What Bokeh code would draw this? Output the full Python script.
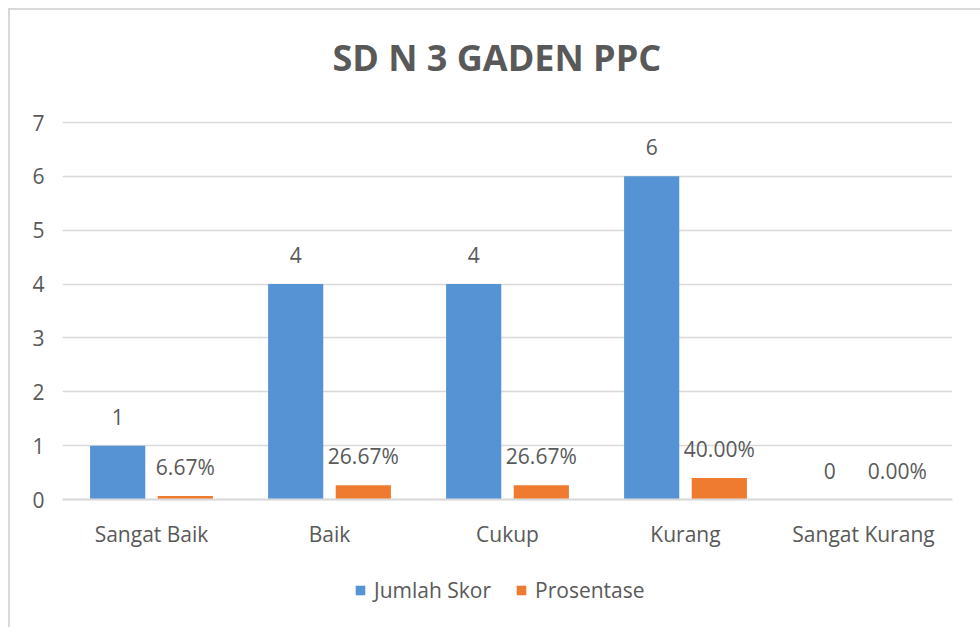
from bokeh.plotting import figure
from bokeh.models import (Range1d, FixedTicker, ColumnDataSource, LabelSet, Label, Legend,
                          LegendItem, Span)
from bokeh.core.properties import value
from bokeh.transform import dodge
from bokeh.embed import file_html
from bokeh.resources import INLINE

# ---- data ----
categories = ["Sangat Baik", "Baik", "Cukup", "Kurang", "Sangat Kurang"]
jumlah_skor = [1, 4, 4, 6, 0]
prosentase = [0.0667, 0.2667, 0.2667, 0.40, 0.0]
y_ticks = [0, 1, 2, 3, 4, 5, 6, 7]
title_text = "SD N 3 GADEN PPC"
series_names = ["Jumlah Skor", "Prosentase"]

FONT = "Open Sans"
TXT = "#595959"
BLUE = "#5593d5"
ORANGE = "#ee7b30"
GRID = "#d9d9d9"

# layout (pixels)
PLOT_H = 377          # height of the 0..7 value area
TOP_SPACE = 112       # title area above the value area
BOTTOM_SPACE = 128    # category labels + legend below the value area
px_per_unit = PLOT_H / 7
y_top = 7 + TOP_SPACE / px_per_unit
y_bottom = -BOTTOM_SPACE / px_per_unit

source = ColumnDataSource(dict(
    cat=categories,
    skor=jumlah_skor,
    pct=prosentase,
    base=[0] * len(categories),
    skor_lbl=[str(v) for v in jumlah_skor],
    pct_lbl=[f"{v*100:.2f}%" for v in prosentase],
))

p = figure(x_range=categories, y_range=Range1d(y_bottom, y_top),
           frame_width=890, frame_height=TOP_SPACE + PLOT_H + BOTTOM_SPACE,
           x_axis_location=None,
           output_backend="svg", toolbar_location=None,
           min_border_left=52, min_border_right=28, min_border_top=0, min_border_bottom=0)
p.styles = {"margin-left": "8px", "margin-top": "8px",
            "border-top": "2px solid #d9d9d9", "border-left": "2px solid #d9d9d9"}

p.outline_line_color = None
p.xgrid.grid_line_color = None
p.ygrid.grid_line_color = GRID
p.ygrid.grid_line_width = 1.5
p.yaxis.ticker = FixedTicker(ticks=y_ticks)

p.yaxis.axis_line_color = None
p.yaxis.major_tick_line_color = None
p.yaxis.minor_tick_line_color = None
p.yaxis.major_label_text_font = FONT
p.yaxis.major_label_text_font_size = "21px"
p.yaxis.major_label_text_color = TXT
p.yaxis.major_label_standoff = 12

# category axis baseline
p.add_layout(Span(location=0, dimension="width", line_color=GRID, line_width=2))

# title
p.add_layout(Label(x=2.44, y=y_top - 47 / px_per_unit, text=title_text,
                   text_align="center", text_baseline="middle",
                   text_font=FONT, text_font_size="36px", text_font_style="bold",
                   text_color=TXT))

r1 = p.vbar(x=dodge("cat", -0.19, range=p.x_range), top="skor", width=0.31,
            source=source, fill_color=BLUE, line_color=None)
r2 = p.vbar(x=dodge("cat", 0.19, range=p.x_range), top="pct", width=0.31,
            source=source, fill_color=ORANGE, line_color=None)

for xoff, col, lbl in [(-0.19, "skor", "skor_lbl"), (0.19, "pct", "pct_lbl")]:
    p.add_layout(LabelSet(x=dodge("cat", xoff, range=p.x_range), y=col, text=lbl, source=source,
                          text_align="center", text_baseline="middle", y_offset=29,
                          text_font=value(FONT), text_font_size=value("21px"), text_color=TXT))

# category labels
p.add_layout(LabelSet(x="cat", y="base", text="cat", source=source,
                      text_align="center", text_baseline="middle", y_offset=-34,
                      text_font=value(FONT), text_font_size=value("21px"), text_color=TXT))

legend = Legend(items=[LegendItem(label=series_names[0], renderers=[r1]),
                       LegendItem(label=series_names[1], renderers=[r2])],
                orientation="horizontal", location=(292, 23),
                label_text_font=FONT, label_text_font_size="21px", label_text_color=TXT,
                glyph_width=12, glyph_height=12, spacing=24, label_standoff=8,
                padding=0, margin=0,
                border_line_color=None, background_fill_alpha=0)
p.add_layout(legend, "center")

open("out.html", "w").write(file_html(p, INLINE))
